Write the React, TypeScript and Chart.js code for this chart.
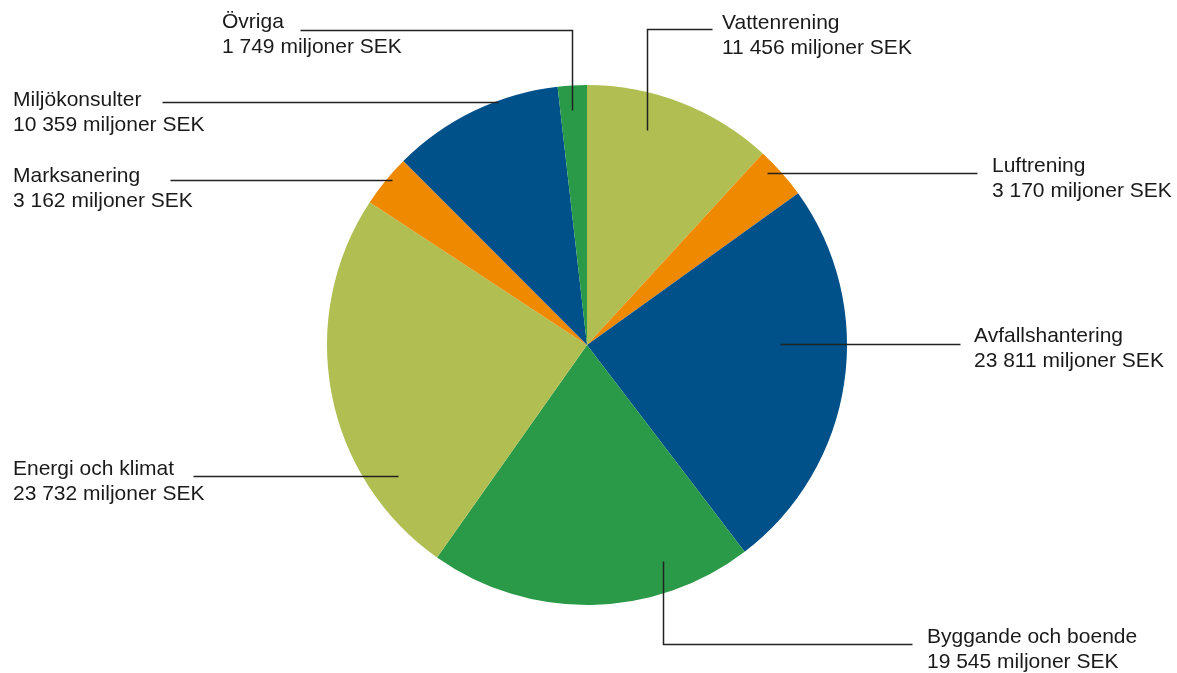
import React, { useEffect, useRef } from "react";
import { Chart, registerables } from "chart.js";

Chart.register(...registerables);

const categories = [
  "Vattenrening",
  "Luftrening",
  "Avfallshantering",
  "Byggande och boende",
  "Energi och klimat",
  "Marksanering",
  "Miljökonsulter",
  "Övriga",
];
const values = [11456, 3170, 23811, 19545, 23732, 3162, 10359, 1749];
const valueLabels = [
  "11 456 miljoner SEK",
  "3 170 miljoner SEK",
  "23 811 miljoner SEK",
  "19 545 miljoner SEK",
  "23 732 miljoner SEK",
  "3 162 miljoner SEK",
  "10 359 miljoner SEK",
  "1 749 miljoner SEK",
];
const colors = ["#B0BE52", "#EF8A00", "#00508A", "#2A9A48", "#B0BE52", "#EF8A00", "#00508A", "#2A9A48"];

// label layout: leader path and text anchor (pixels in the canvas)
const labelLayout = [
  { path: [[647, 130], [647, 29], [712, 29]], tx: 722, ty: 23 },
  { path: [[767, 173], [977, 173]], tx: 992, ty: 166 },
  { path: [[780, 344], [960, 344]], tx: 974, ty: 336 },
  { path: [[663, 561], [663, 644], [912, 644]], tx: 927, ty: 637 },
  { path: [[398, 476], [193, 476]], tx: 13, ty: 469 },
  { path: [[392, 180], [170, 180]], tx: 13, ty: 176 },
  { path: [[498, 102], [162, 102]], tx: 13, ty: 100 },
  { path: [[572, 110], [572, 30], [300, 30]], tx: 222, ty: 22 },
];

const leaderPlugin = {
  id: "leaders",
  afterDraw(chart: any) {
    const ctx = chart.ctx;
    ctx.save();
    ctx.strokeStyle = "#222";
    ctx.lineWidth = 1.5;
    ctx.fillStyle = "#1a1a1a";
    ctx.font = '21px "Liberation Sans", Arial, sans-serif';
    ctx.textBaseline = "middle";
    ctx.textAlign = "left";
    labelLayout.forEach((l, i) => {
      ctx.beginPath();
      l.path.forEach((p, j) => {
        const x = p[0] + 0.5;
        const y = p[1] + 0.5;
        if (j === 0) ctx.moveTo(x, y);
        else ctx.lineTo(x, y);
      });
      ctx.stroke();
      ctx.fillText(categories[i], l.tx, l.ty);
      ctx.fillText(valueLabels[i], l.tx, l.ty + 25);
    });
    ctx.restore();
  },
};

export default function App() {
  const ref = useRef<HTMLCanvasElement | null>(null);
  useEffect(() => {
    if (!ref.current) return;
    const chart = new Chart(ref.current, {
      type: "pie",
      data: {
        labels: categories,
        datasets: [
          {
            data: values,
            backgroundColor: colors,
            borderWidth: 0,
          },
        ],
      },
      options: {
        animation: false,
        responsive: false,
        maintainAspectRatio: false,
        layout: { padding: { top: 85, bottom: 68, left: 327, right: 330 } },
        plugins: {
          legend: { display: false },
          tooltip: { enabled: false },
        },
      },
      plugins: [leaderPlugin],
    });
    return () => chart.destroy();
  }, []);
  return (
    <div style={{ position: "fixed", left: 0, top: 0, width: 1177, height: 673, background: "#fff" }}>
      <canvas ref={ref} width={1177} height={673} style={{ width: 1177, height: 673 }} />
    </div>
  );
}
